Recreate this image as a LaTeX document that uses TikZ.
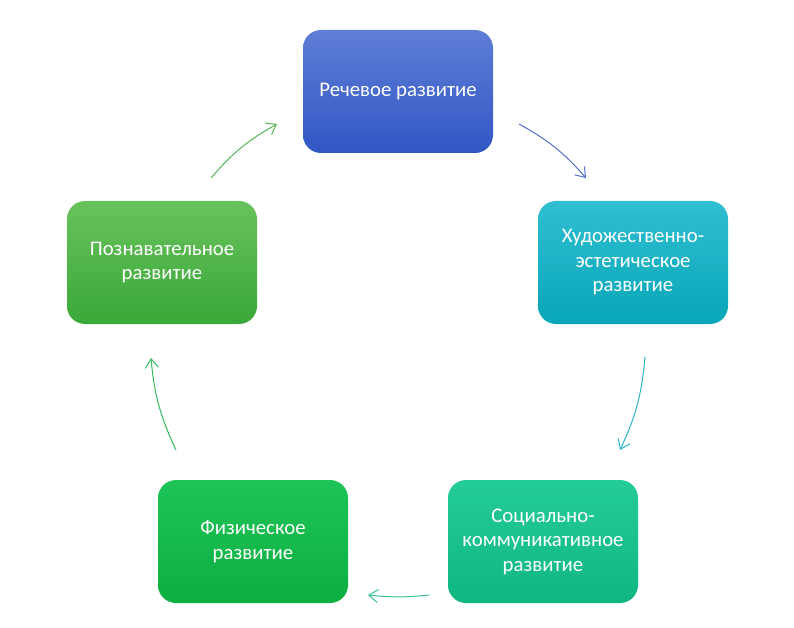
\documentclass[tikz,border=0pt]{standalone}
\usepackage{fontspec}
\setmainfont{Carlito}
\usepackage{tikz}
\usetikzlibrary{arrows.meta}

\definecolor{blueA}{RGB}{94,126,214}
\definecolor{blueB}{RGB}{50,86,196}
\definecolor{tealA}{RGB}{48,190,210}
\definecolor{tealB}{RGB}{8,166,184}
\definecolor{mintA}{RGB}{36,204,152}
\definecolor{mintB}{RGB}{16,182,130}
\definecolor{grnA}{RGB}{30,196,88}
\definecolor{grnB}{RGB}{14,174,64}
\definecolor{leafA}{RGB}{104,194,92}
\definecolor{leafB}{RGB}{58,168,56}

\begin{document}
\begin{tikzpicture}[
  x=1pt,y=1pt,
  font=\fontsize{20.8}{24.5}\selectfont,
  area/.style={draw=none,rounded corners=18pt,align=center,text=white,
    minimum width=190pt,minimum height=123pt,inner sep=2pt},
  cyc/.style={line width=1pt,-{Straight Barb[length=9pt,width=13pt,line width=1pt]}}
]
\useasboundingbox (0,0) rectangle (794,627);

\node[area,top color=blueA,bottom color=blueB] (speech) at (398,535.5) {Речевое развитие};
\node[area,top color=tealA,bottom color=tealB] (art) at (633,364.5) {Художественно-\\эстетическое\\развитие};
\node[area,top color=mintA,bottom color=mintB] (social) at (543,85.5) {Социально-\\коммуникативное\\развитие};
\node[area,top color=grnA,bottom color=grnB] (phys) at (253,85.5) {Физическое\\развитие};
\node[area,top color=leafA,bottom color=leafB] (cogn) at (162,364.5) {Познавательное\\развитие};

% free ends of the cycle arrows
\coordinate (s1) at (519,503); \coordinate (e1) at (586,449);
\coordinate (s2) at (645,270); \coordinate (e2) at (620,177);
\coordinate (s3) at (429,32);  \coordinate (e3) at (368,32);
\coordinate (s4) at (176,177); \coordinate (e4) at (151,269);
\coordinate (s5) at (211,449); \coordinate (e5) at (277,503);

\draw[cyc,draw=blueB!85] (s1) to[bend left=10] (e1);
\draw[cyc,draw=tealB!85] (s2) to[bend left=10] (e2);
\draw[cyc,draw=mintB!85] (s3) to[bend left=6] (e3);
\draw[cyc,draw=grnB!85] (s4) to[bend left=10] (e4);
\draw[cyc,draw=leafB!85] (s5) to[bend left=10] (e5);
\end{tikzpicture}
\end{document}
